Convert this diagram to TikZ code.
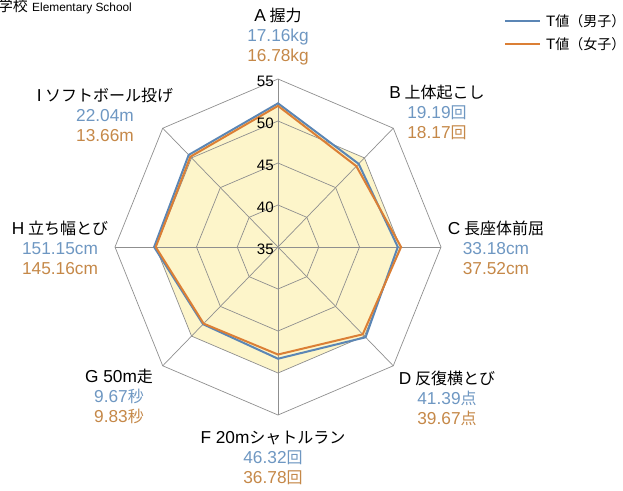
\documentclass[tikz,border=0pt]{standalone}
\usepackage{fontspec}
\setmainfont{Noto Sans CJK JP}
\newfontfamily\latn[Scale=1.08]{Liberation Sans}
\usepackage{tikz}
\definecolor{boy}{HTML}{5B86B5}
\definecolor{girl}{HTML}{DB7F35}
\definecolor{boytext}{HTML}{6E97C2}
\definecolor{girltext}{HTML}{C58848}
\definecolor{area}{HTML}{FDF5CA}
\definecolor{ring}{HTML}{8F8F8F}

\begin{document}
\begin{tikzpicture}[x=1pt,y=1pt,
	lab/.style={align=center,inner sep=0pt,font=\fontsize{16}{20}\selectfont},
	tick/.style={anchor=east,inner sep=0pt,xshift=-4pt,yshift=-2pt,font=\fontsize{14}{14}\selectfont\latn},
	series/.style={line width=2pt,line join=miter},
	legtext/.style={anchor=west,inner sep=0pt,font=\fontsize{14}{14}\selectfont}]
	\useasboundingbox (-278,-243) rectangle (345,247);
	\begin{scope}[x=8.15pt,y=8.4pt]
		\fill[area] (90:15) \foreach \a in {45,0,-45,-90,-135,180,135}{ -- (\a:15)} -- cycle;
		\fill[area] (90:17.1) -- (45:14.0) -- (0:14.7) -- (-45:15.2) -- (-90:13.3) -- (-135:13.0) -- (180:15.2) -- (135:15.5) -- cycle;
		\foreach \r in {5,10,15,20}
			\draw[ring,line width=0.7pt] (90:\r) \foreach \a in {45,0,-45,-90,-135,180,135}{ -- (\a:\r)} -- cycle;
		\foreach \a in {90,45,0,-45,-90,-135,180,135}
			\draw[ring,line width=0.7pt] (0,0) -- (\a:20);
		\draw[series,boy] (90:17.1) -- (45:14.0) -- (0:14.7) -- (-45:15.2) -- (-90:13.3) -- (-135:13.0) -- (180:15.2) -- (135:15.5) -- cycle;
		\draw[series,girl] (90:16.8) -- (45:13.6) -- (0:15.1) -- (-45:14.7) -- (-90:12.8) -- (-135:12.9) -- (180:15.0) -- (135:15.2) -- cycle;
		\foreach \r/\t in {0/35,5/40,10/45,15/50,20/55}
			\node[tick] (t\t) at (90:\r) {\t};
	\end{scope}
	\node[lab] (a) at (0,210) {{\latn A} 握力\\\textcolor{boytext}{\latn 17.16kg}\\\textcolor{girltext}{\latn 16.78kg}};
	\node[lab] (b) at (159,135) {{\latn B} 上体起こし\\\textcolor{boytext}{{\latn 19.19}回}\\\textcolor{girltext}{{\latn 18.17}回}};
	\node[lab] (c) at (218,-1) {{\latn C} 長座体前屈\\\textcolor{boytext}{\latn 33.18cm}\\\textcolor{girltext}{\latn 37.52cm}};
	\node[lab] (d) at (169,-151) {{\latn D} 反復横とび\\\textcolor{boytext}{{\latn 41.39}点}\\\textcolor{girltext}{{\latn 39.67}点}};
	\node[lab] (f) at (-5,-211) {{\latn F 20m}シャトルラン\\\textcolor{boytext}{{\latn 46.32}回}\\\textcolor{girltext}{{\latn 36.78}回}};
	\node[lab] (g) at (-159,-149) {{\latn G 50m}走\\\textcolor{boytext}{{\latn 9.67}秒}\\\textcolor{girltext}{{\latn 9.83}秒}};
	\node[lab] (h) at (-218,-1) {{\latn H} 立ち幅とび\\\textcolor{boytext}{\latn 151.15cm}\\\textcolor{girltext}{\latn 145.16cm}};
	\node[lab] (i) at (-173,132) {{\latn I} ソフトボール投げ\\\textcolor{boytext}{\latn 22.04m}\\\textcolor{girltext}{\latn 13.66m}};
	\node[anchor=base east,inner sep=0pt,font=\fontsize{15}{15}\selectfont] (school) at (-250,235) {学校};
	\node[anchor=base west,inner sep=0pt,font=\fontsize{11}{12}\selectfont\latn] (en) at (-246,235) {Elementary School};
	\coordinate (lb1) at (227,226);
	\coordinate (lb2) at (262,226);
	\coordinate (lg1) at (227,203);
	\coordinate (lg2) at (262,203);
	\draw[boy,line width=2pt] (lb1) -- (lb2);
	\draw[girl,line width=2pt] (lg1) -- (lg2);
	\node[legtext] (legb) at (268,226) {{\latn T}値（男子）};
	\node[legtext] (legg) at (268,203) {{\latn T}値（女子）};
\end{tikzpicture}
\end{document}
